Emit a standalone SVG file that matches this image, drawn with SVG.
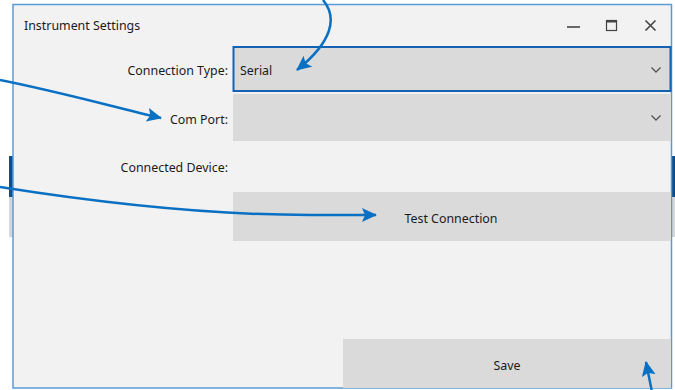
<svg xmlns="http://www.w3.org/2000/svg" width="675" height="390" viewBox="0 0 675 390">
<style>
  .lbl { font-family: "Noto Sans", "Open Sans", sans-serif; font-size: 12.4px; fill: #1b1b1b; }
  .r { text-anchor: end; }
  .c { text-anchor: middle; }
  .field { fill: #dadada; }
  .conn { fill: none; stroke: #0a70c4; stroke-width: 2.5; }
  .icon { fill: none; stroke: #444; stroke-width: 1.6; }
</style>
<defs>
  <marker id="ah" markerUnits="userSpaceOnUse" markerWidth="18" markerHeight="16" refX="14" refY="7" orient="auto">
    <path d="M0,0 L15,7 L0,14 L3,7 Z" fill="#0a70c4"/>
  </marker>
</defs>
<rect width="675" height="390" fill="#ffffff"/>
<g id="side-tabs">
  <rect x="9" y="156" width="4" height="41" fill="#0e4e8c"/>
  <rect x="9" y="197" width="4" height="40" fill="#d6d6d6"/>
  <rect x="672" y="156" width="3" height="41" fill="#0e4e8c"/>
  <rect x="672" y="197" width="3" height="40" fill="#d6d6d6"/>
</g>
<g id="window">
  <rect x="13" y="4.5" width="658.5" height="383.5" fill="#f2f2f2" stroke="#5b9bd5" stroke-width="1.5"/>
  <text class="lbl" x="24" y="30">Instrument Settings</text>
  <line class="icon" x1="567" y1="27" x2="580" y2="27"/>
  <rect x="606.5" y="20.5" width="10" height="10" fill="none" stroke="#444" stroke-width="1.2"/>
  <line x1="606.5" y1="21.5" x2="616.5" y2="21.5" stroke="#444" stroke-width="2"/>
  <path class="icon" d="M645.5,20.5 L655.5,30.5 M655.5,20.5 L645.5,30.5"/>
</g>
<g id="connection-type">
  <text class="lbl r" x="228" y="75">Connection Type:</text>
  <rect class="field" x="233.5" y="47" width="437" height="44" stroke="#1462b0" stroke-width="2"/>
  <text class="lbl" x="240" y="75">Serial</text>
  <path d="M651.5,67.5 L656,72 L660.5,67.5" fill="none" stroke="#555" stroke-width="1.3"/>
</g>
<g id="com-port">
  <text class="lbl r" x="228" y="124">Com Port:</text>
  <rect class="field" x="233" y="94" width="438" height="47"/>
  <path d="M651.5,115.5 L656,120 L660.5,115.5" fill="none" stroke="#555" stroke-width="1.3"/>
</g>
<g id="connected-device">
  <text class="lbl r" x="228" y="172">Connected Device:</text>
</g>
<g id="test-connection">
  <rect class="field" x="233" y="192" width="438" height="49"/>
  <text class="lbl c" x="451" y="223">Test Connection</text>
</g>
<g id="save">
  <rect class="field" x="343" y="339" width="328" height="49"/>
  <text class="lbl c" x="507" y="370">Save</text>
</g>
<g id="connectors">
  <path class="conn" d="M323,0 C338,18 332,42 297,70" marker-end="url(#ah)"/>
  <path class="conn" d="M0,80 C60,92 110,106 161,118" marker-end="url(#ah)"/>
  <path class="conn" d="M0,187 C120,206 230,215 310,215 C340,215 360,215 376,215" marker-end="url(#ah)"/>
  <path class="conn" d="M652,392 L646,362" marker-end="url(#ah)"/>
</g>
</svg>
